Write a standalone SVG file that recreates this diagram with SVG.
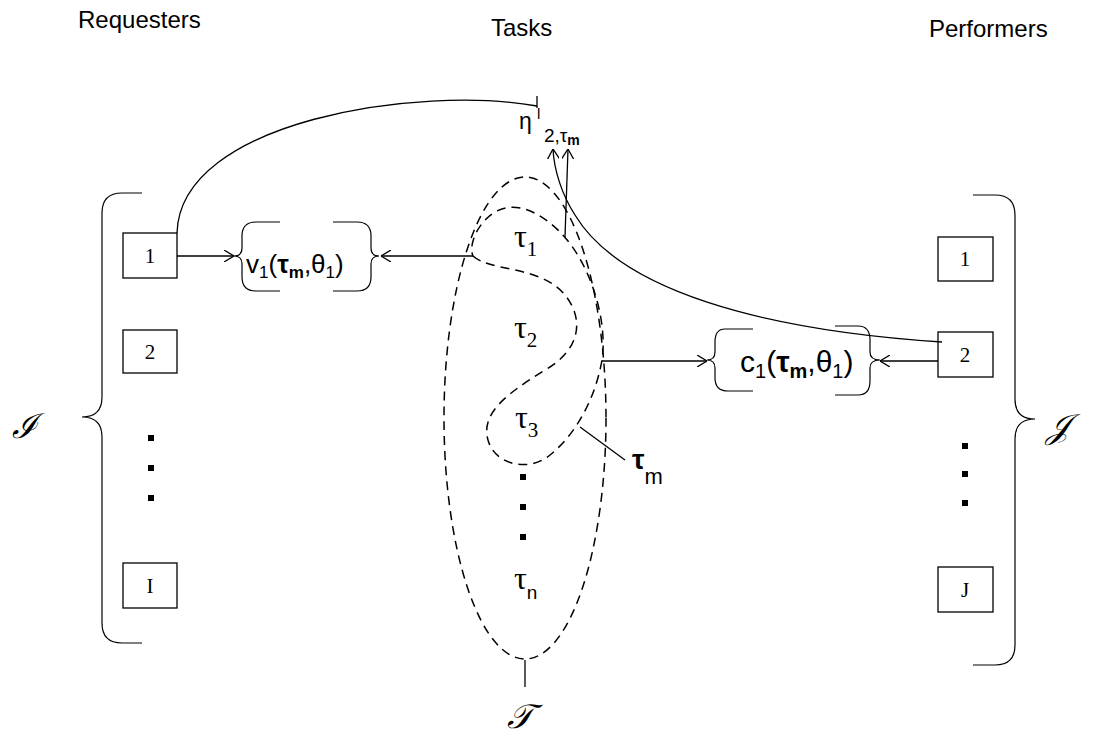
<svg xmlns="http://www.w3.org/2000/svg" width="1098" height="738" viewBox="0 0 1098 738">
<defs>
<marker id="arr" viewBox="0 0 10 12" refX="10" refY="6" markerWidth="10" markerHeight="12" markerUnits="userSpaceOnUse" orient="auto">
<path d="M0,0 L10,6 L0,12" fill="none" stroke="#000" stroke-width="1.3"/>
</marker>
</defs>
<style>
.ln{fill:none;stroke:#000;stroke-width:1.3}
.br{fill:none;stroke:#000;stroke-width:1.2}
.dash{fill:none;stroke:#000;stroke-width:1.5;stroke-dasharray:9,6}
.box{fill:#fff;stroke:#000;stroke-width:1.3}
</style>
<rect width="1098" height="738" fill="#fff"/>
<g id="headers" font-family="'Liberation Sans', Arial, sans-serif" font-size="24">
<text x="78" y="28">Requesters</text>
<text x="491" y="36">Tasks</text>
<text x="929" y="37">Performers</text>
</g>
<g id="requesters">
<path class="br" d="M142,193 H122 Q102,193 102,213 V397 Q102,417 82,417 Q102,417 102,437 V623 Q102,643 122,643 H142"/>
<text x="12" y="438" font-family="'DejaVu Serif', serif" font-style="italic" font-size="34">ℐ</text>
<g id="req1"><rect class="box" x="123" y="233" width="54" height="45"/><text x="150" y="263" font-family="'Liberation Serif', serif" font-size="21" text-anchor="middle">1</text></g>
<g id="req2"><rect class="box" x="123" y="330" width="54" height="43"/><text x="150" y="359" font-family="'Liberation Serif', serif" font-size="21" text-anchor="middle">2</text></g>
<g id="reqI"><rect class="box" x="123" y="563" width="54" height="45"/><text x="150" y="593" font-family="'Liberation Serif', serif" font-size="21" text-anchor="middle">I</text></g>
<rect x="148" y="435" width="6" height="6"/><rect x="148" y="465" width="6" height="6"/><rect x="148" y="495" width="6" height="6"/>
</g>
<g id="performers">
<path class="br" d="M973,195 H995 Q1015,195 1015,215 V399 Q1015,419 1035,419 Q1015,419 1015,439 V645 Q1015,665 995,665 H973"/>
<text x="1046" y="438" font-family="'DejaVu Serif', serif" font-style="italic" font-size="34">𝒥</text>
<g id="perf1"><rect class="box" x="938" y="237" width="55" height="44"/><text x="965" y="266" font-family="'Liberation Serif', serif" font-size="21" text-anchor="middle">1</text></g>
<g id="perf2"><rect class="box" x="938" y="332" width="55" height="45"/><text x="965" y="362" font-family="'Liberation Serif', serif" font-size="21" text-anchor="middle">2</text></g>
<g id="perfJ"><rect class="box" x="938" y="567" width="55" height="45"/><text x="965" y="597" font-family="'Liberation Serif', serif" font-size="21" text-anchor="middle">J</text></g>
<rect x="962" y="443" width="6" height="6"/><rect x="962" y="471" width="6" height="6"/><rect x="962" y="500" width="6" height="6"/>
</g>
<g id="tasks">
<ellipse class="dash" cx="525" cy="418" rx="81" ry="241"/>
<path class="dash" d="M473,256 C490,272 540,265 565,295 C585,320 580,350 545,370 C510,392 480,412 488,440 C495,466 530,472 550,455 C575,435 595,400 602,360 C608,320 590,262 560,232 C540,212 515,200 495,212 C478,222 468,245 473,256 Z"/>
<g font-family="'Liberation Serif', serif" font-size="32">
<text x="514" y="247">τ<tspan font-size="21" dy="9">1</tspan></text>
<text x="514" y="338">τ<tspan font-size="21" dy="9">2</tspan></text>
<text x="515" y="428">τ<tspan font-size="21" dy="9">3</tspan></text>
<text x="514" y="589">τ<tspan font-family="'Liberation Sans', sans-serif" font-size="19" dy="10">n</tspan></text>
</g>
<rect x="520" y="474" width="6" height="6"/><rect x="520" y="504" width="6" height="6"/><rect x="520" y="534" width="6" height="6"/>
<line class="ln" x1="525" y1="660" x2="525" y2="687"/>
<text x="507" y="728" font-family="'DejaVu Serif', serif" font-style="italic" font-size="34">𝒯</text>
<line class="ln" x1="580" y1="427" x2="625" y2="460"/>
<text x="632" y="469" font-family="'Liberation Sans', sans-serif" font-size="28" font-weight="bold">τ<tspan font-weight="normal" font-size="22" dy="15">m</tspan></text>
</g>
<g id="valuation">
<path class="br" d="M280,222 H256 Q242,222 242,236 V248 Q242,256 234,256 Q242,256 242,264 V277 Q242,291 256,291 H280"/>
<path class="br" d="M333,222 H357 Q371,222 371,236 V248 Q371,256 379,256 Q371,256 371,264 V277 Q371,291 357,291 H333"/>
<text x="246" y="273" font-family="'Liberation Sans', sans-serif" font-size="26">v<tspan font-size="17" dy="5">1</tspan><tspan dy="-5">(</tspan><tspan font-weight="bold">τ</tspan><tspan font-weight="bold" font-size="17" dy="5">m</tspan><tspan dy="-5">,θ</tspan><tspan font-size="17" dy="5">1</tspan><tspan dy="-5">)</tspan></text>
</g>
<g id="cost">
<path class="br" d="M753,329 H725 Q715,329 715,342 V352 Q715,360 707,360 Q715,360 715,368 V378 Q715,391 728,391 H753"/>
<path class="br" d="M835,326 H858 Q870,326 870,340 V352 Q870,360 880,360 Q870,360 870,368 V381 Q870,395 858,395 H835"/>
<text x="740" y="372" font-family="'Liberation Sans', sans-serif" font-size="30">c<tspan font-size="20" dy="6">1</tspan><tspan dy="-6">(</tspan><tspan font-weight="bold">τ</tspan><tspan font-weight="bold" font-size="20" dy="6">m</tspan><tspan dy="-6">,θ</tspan><tspan font-size="20" dy="6">1</tspan><tspan dy="-6">)</tspan></text>
</g>
<g id="eta" font-family="'Liberation Sans', sans-serif">
<text x="519" y="129" font-size="23">η</text>
<text x="537" y="119" font-size="15">l</text>
<text x="544" y="142" font-size="19">2,τ<tspan font-weight="bold" font-size="14" dy="3">m</tspan></text>
</g>
<g id="connectors">
<line class="ln" x1="177" y1="256" x2="234" y2="256" marker-end="url(#arr)"/>
<line class="ln" x1="473" y1="256" x2="381" y2="256" marker-end="url(#arr)"/>
<line class="ln" x1="602" y1="361" x2="707" y2="361" marker-end="url(#arr)"/>
<line class="ln" x1="938" y1="361" x2="880" y2="361" marker-end="url(#arr)"/>
<path class="ln" d="M177,233 C180,120 420,85 537,106"/>
<line class="ln" x1="537" y1="96" x2="537" y2="108"/>
<path class="ln" d="M565,237 L568,149" marker-end="url(#arr)"/>
<path class="ln" d="M942,342 C760,330 620,290 575,215 C562,195 554,170 553,149" marker-end="url(#arr)"/>
</g>
</svg>
